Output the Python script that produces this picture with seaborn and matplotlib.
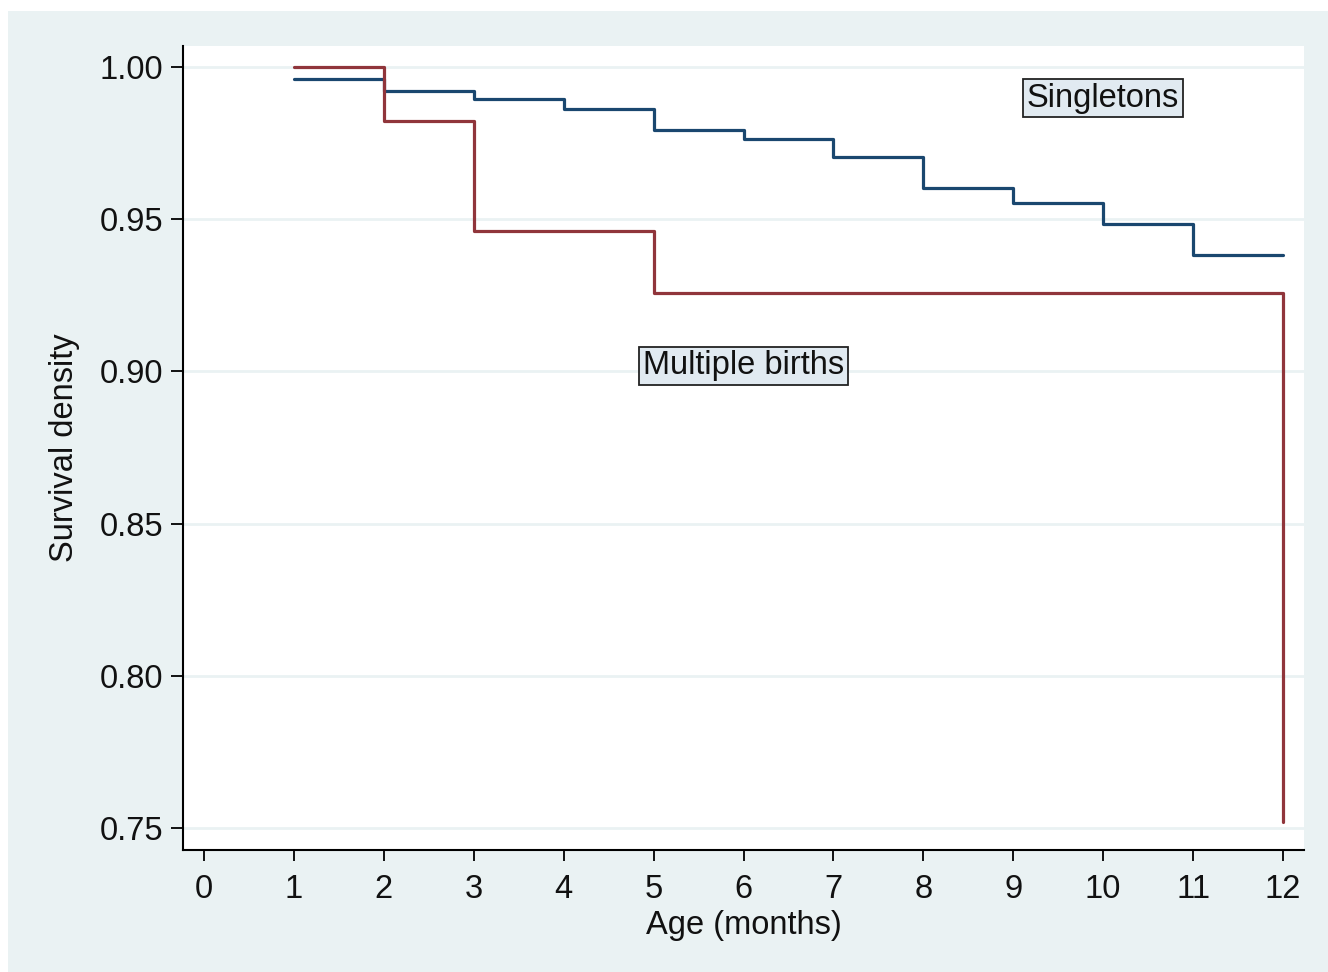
import numpy as np
import pandas as pd
import matplotlib
matplotlib.use("Agg")
import matplotlib.pyplot as plt
import seaborn as sns
from matplotlib.patches import Rectangle

# Kaplan-Meier style survival estimates
single_age = [1, 2, 3, 4, 5, 6, 7, 8, 9, 10, 11, 12]
single_surv = [0.9961, 0.9921, 0.9895, 0.9862, 0.9793, 0.9763,
               0.9704, 0.9602, 0.9553, 0.9484, 0.9382, 0.9382]

multi_age = [1, 2, 3, 5, 12, 12]
multi_surv = [1.000, 0.9823, 0.9461, 0.9258, 0.9258, 0.752]

y_ticks = [0.75, 0.80, 0.85, 0.90, 0.95, 1.00]
x_ticks = list(range(0, 13))

NAVY = "#1a476f"
MAROON = "#90353b"
BLUISH = "#eaf2f3"
FS = 23.5

df = pd.concat([
    pd.DataFrame({"age": single_age, "surv": single_surv, "group": "Singletons"}),
    pd.DataFrame({"age": multi_age, "surv": multi_surv, "group": "Multiple births"}),
], ignore_index=True)

sns.set_theme(style="white")
plt.rcParams["font.family"] = ["Liberation Sans", "DejaVu Sans"]

W, H = 1328, 972
fig = plt.figure(figsize=(W / 100, H / 100), dpi=100, facecolor="white")
# outer Stata-like bluish-gray frame
fig.patches.append(Rectangle((8 / W, 0), 1 - 8 / W, 1 - 11 / H,
                             transform=fig.transFigure, facecolor=BLUISH,
                             edgecolor="none", zorder=-10))

ax = fig.add_axes([183 / W, 1 - 850 / H, (1304 - 183) / W, (850 - 46) / H])
ax.set_zorder(1)
ax.set_facecolor("white")

sns.lineplot(data=df, x="age", y="surv", hue="group",
             palette={"Singletons": NAVY, "Multiple births": MAROON},
             estimator=None, sort=False, drawstyle="steps-post",
             linewidth=2.3, legend=False, ax=ax)

ax.set_xlim(-0.2336, 12.2336)
ax.set_ylim(0.7428, 1.0069)
ax.set_xticks(x_ticks)
ax.set_yticks(y_ticks)
ax.set_yticklabels([f"{v:.2f}" for v in y_ticks])

for y in y_ticks:
    ax.axhline(y, color=BLUISH, linewidth=2, zorder=0)

for s in ["top", "right"]:
    ax.spines[s].set_visible(False)
for s in ["left", "bottom"]:
    ax.spines[s].set_color("black")
    ax.spines[s].set_linewidth(1.5)

ax.tick_params(axis="both", which="major", direction="out", color="black",
               labelsize=FS, labelcolor="#111111", width=1.3, bottom=True, left=True)
ax.tick_params(axis="x", length=8, pad=9)
ax.tick_params(axis="y", length=9, pad=5)

ax.set_xlabel("Age (months)", fontsize=FS, color="#111111", labelpad=4)
ax.set_ylabel("Survival density", fontsize=FS, color="#111111", labelpad=14)

box = dict(boxstyle="square,pad=0.12", facecolor="#e1eaf1", edgecolor="#222222", linewidth=1.3)
ax.text(10.0, 0.9898, "Singletons", fontsize=FS, ha="center", va="center",
        color="#111111", bbox=box)
ax.text(6.0, 0.9018, "Multiple births", fontsize=FS, ha="center", va="center",
        color="#111111", bbox=box)

fig.savefig("out.png", dpi=100, facecolor="white")
